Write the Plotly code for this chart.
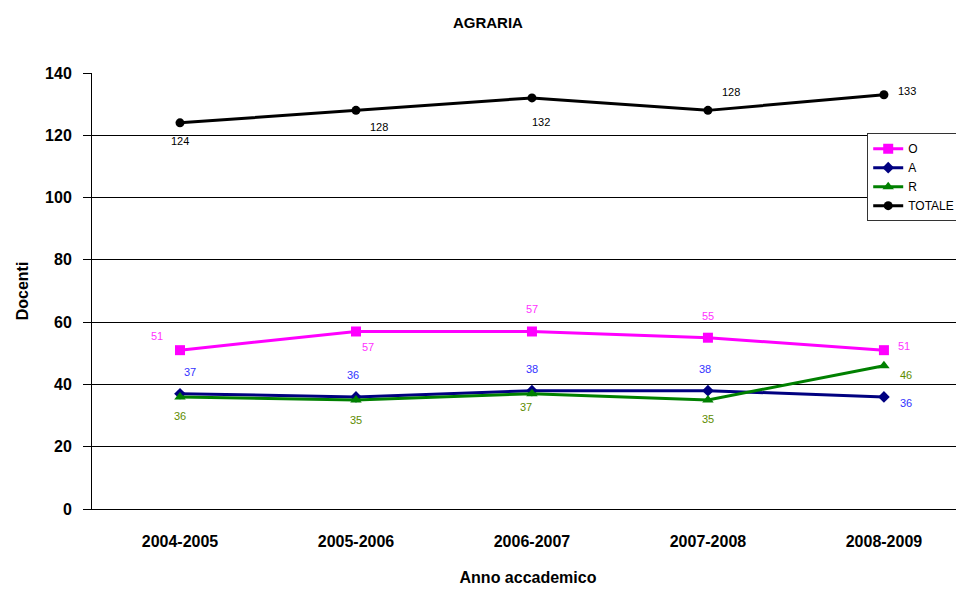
import plotly.graph_objects as go

years = ["2004-2005", "2005-2006", "2006-2007", "2007-2008", "2008-2009"]
O = [51, 57, 57, 55, 51]
A = [37, 36, 38, 38, 36]
R = [36, 35, 37, 35, 46]
TOT = [124, 128, 132, 128, 133]

# label offsets (px) per point
O_off = [(-23, 14), (12, -16), (0, 22), (0, 22), (20, 4)]
A_off = [(10, 22), (-3, 22), (0, 22), (-3, 22), (22, -6)]
R_off = [(0, -19), (0, -20), (-6, -13), (0, -19), (22, -9)]
T_off = [(0, -18), (23, -17), (9, -24), (23, 18), (23, 4)]

series = [
    ("O", O, "#FF00FF", "square", 10, "#FF33FF", O_off),
    ("A", A, "#000080", "diamond", 9, "#3333FF", A_off),
    ("R", R, "#008000", "triangle-up", 10, "#5E8C00", R_off),
    ("TOTALE", TOT, "#000000", "circle", 9, "#000000", T_off),
]

fig = go.Figure()
xs = list(range(len(years)))
annotations = []
for name, vals, col, sym, sz, lcol, offs in series:
    fig.add_trace(go.Scatter(
        x=xs, y=vals, name=name, mode="lines+markers",
        line=dict(color=col, width=3),
        marker=dict(symbol=sym, size=sz, color=col),
    ))
    for i, v in enumerate(vals):
        dx, dy = offs[i]
        annotations.append(dict(
            x=i, y=v, text=str(v), showarrow=False, xshift=dx, yshift=dy,
            font=dict(family="Liberation Sans, Arial", size=11, color=lcol),
        ))

fig.update_layout(
    width=956, height=581,
    margin=dict(l=84, r=0, t=65, b=80, autoexpand=False),
    paper_bgcolor="white", plot_bgcolor="white",
    font=dict(family="Liberation Sans, Arial", color="#000000"),
    title=dict(text="<b>AGRARIA</b>", x=0.502, xanchor="center", y=0.975, yanchor="middle",
               font=dict(size=15, color="#000000")),
    xaxis=dict(
        tickmode="array", tickvals=xs, ticktext=["<b>%s</b>" % y for y in years],
        range=[-0.5, 4.455], showgrid=False, zeroline=False,
        showline=True, linecolor="black", linewidth=1, automargin=False,
        tickfont=dict(size=16), ticks="", ticklabelstandoff=18,
        title=dict(text="<b>Anno accademico</b>", font=dict(size=16), standoff=22),
    ),
    yaxis=dict(
        range=[0, 140], tickvals=[0, 20, 40, 60, 80, 100, 120, 140],
        ticktext=["<b>%d</b>" % v for v in [0, 20, 40, 60, 80, 100, 120, 140]],
        showgrid=True, gridcolor="black", gridwidth=1, zeroline=False,
        showline=True, linecolor="black", linewidth=1, automargin=False,
        ticks="outside", ticklen=8, tickcolor="black", tickfont=dict(size=16),
        ticklabelstandoff=8,
        title=dict(text="<b>Docenti</b>", font=dict(size=16), standoff=12),
    ),
    legend=dict(
        x=0.889, xanchor="left", y=0.862, yanchor="top",
        bgcolor="white", bordercolor="#333333", borderwidth=1,
        font=dict(size=12), tracegroupgap=0,
    ),
    annotations=annotations,
    showlegend=True,
)

fig.write_html("out.html")
